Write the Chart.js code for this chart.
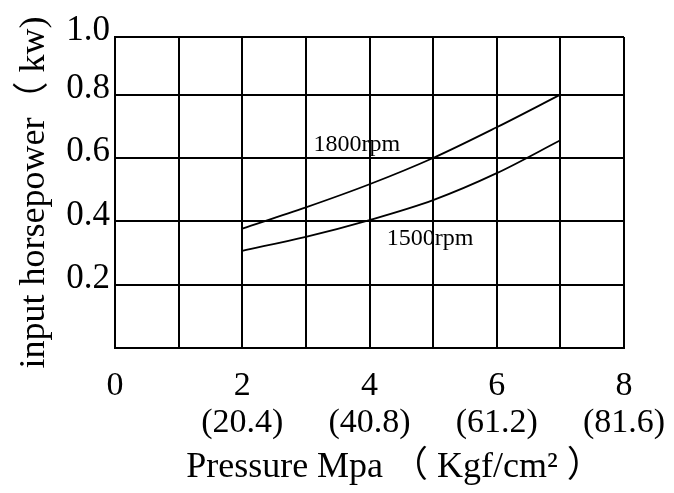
<!DOCTYPE html>
<html>
<head>
<meta charset="utf-8">
<script src="https://cdn.jsdelivr.net/npm/chart.js@4.4.1/dist/chart.umd.min.js"></script>
<style>
  html, body { margin: 0; padding: 0; background: #fff; }
  #wrap { width: 674px; height: 493px; }
</style>
</head>
<body>
<div id="wrap"><canvas id="powerChart" width="674" height="493"></canvas></div>
<script>
// 壓力 (MPa) 與輸入馬力 (kW)
const pressure = [2, 3, 4, 5, 6, 7];
const power1800 = [0.377, 0.444, 0.517, 0.600, 0.697, 0.800];
const power1500 = [0.307, 0.351, 0.404, 0.467, 0.552, 0.656];
const seriesNames = ['1800rpm', '1500rpm'];

// 軸刻度
const mpaTicks = [0, 2, 4, 6, 8];
const kgfTicks = ['', '(20.4)', '(40.8)', '(61.2)', '(81.6)'];
const yTickValues = [0, 0.2, 0.4, 0.6, 0.8, 0.982];
const yTickLabels = ['', '0.2', '0.4', '0.6', '0.8', '1.0'];

const xTitle = 'Pressure Mpa （ Kgf/cm² ）';
const yTitle = 'input horsepower（ kw)';

const SERIF = "'Liberation Serif', 'Noto Sans CJK SC', serif";
Chart.defaults.font.family = SERIF;
Chart.defaults.color = '#000';

const toPoints = ys => ys.map((y, i) => ({ x: pressure[i], y }));

// 曲線旁的轉速文字 + X 軸標題
const labelPlugin = {
  id: 'curveLabels',
  afterDraw(chart) {
    const { ctx, scales: { x, y }, chartArea } = chart;
    const spots = [[3.12, 0.623], [4.27, 0.326]];
    ctx.save();
    ctx.fillStyle = '#000';
    ctx.font = '24px ' + SERIF;
    ctx.textAlign = 'left';
    ctx.textBaseline = 'alphabetic';
    seriesNames.forEach((name, i) => {
      ctx.fillText(name, x.getPixelForValue(spots[i][0]), y.getPixelForValue(spots[i][1]));
    });
    ctx.font = '36px ' + SERIF;
    ctx.textAlign = 'center';
    ctx.fillText(xTitle, (chartArea.left + chart.width) / 2, 477);
    ctx.restore();
  }
};

const lineStyle = {
  borderColor: '#000',
  backgroundColor: 'transparent',
  borderWidth: 1.8,
  pointRadius: 0,
  cubicInterpolationMode: 'monotone',
  fill: false
};

new Chart(document.getElementById('powerChart'), {
  type: 'line',
  data: {
    datasets: [
      { ...lineStyle, label: seriesNames[0], data: toPoints(power1800) },
      { ...lineStyle, label: seriesNames[1], data: toPoints(power1500) }
    ]
  },
  options: {
    responsive: false,
    animation: false,
    devicePixelRatio: 1,
    layout: { padding: { top: 37, right: 50, bottom: 0, left: 0 } },
    plugins: {
      legend: { display: false },
      tooltip: { enabled: false }
    },
    scales: {
      x: {
        type: 'linear',
        min: 0,
        max: 8,
        afterFit: s => { s.height = 145; s.paddingLeft = 0; s.paddingRight = 0; },
        ticks: {
          stepSize: 1,
          autoSkip: false,
          maxRotation: 0,
          padding: 19,
          color: '#000',
          font: { size: 34, lineHeight: 1.1 },
          callback: v => {
            const i = mpaTicks.indexOf(v);
            if (i < 0) return '';
            return kgfTicks[i] ? [String(v), kgfTicks[i]] : String(v);
          }
        },
        grid: { color: '#000', lineWidth: 2, drawTicks: false },
        border: { display: true, color: '#000', width: 2 }
      },
      y: {
        min: 0,
        max: yTickValues[yTickValues.length - 1],
        afterFit: s => { s.width = 115; },
        afterBuildTicks: s => { s.ticks = yTickValues.map(v => ({ value: v })); },
        ticks: {
          padding: 5,
          labelOffset: -6,
          color: '#000',
          font: { size: 35 },
          callback: (v, i) => yTickLabels[i] ?? ''
        },
        grid: { color: '#000', lineWidth: 2, drawTicks: false },
        border: { display: true, color: '#000', width: 2 },
        title: {
          display: true,
          text: yTitle,
          color: '#000',
          font: { size: 36, lineHeight: 1.2 },
          padding: { top: 13, bottom: 0 }
        }
      }
    }
  },
  plugins: [labelPlugin]
});
</script>
</body>
</html>
